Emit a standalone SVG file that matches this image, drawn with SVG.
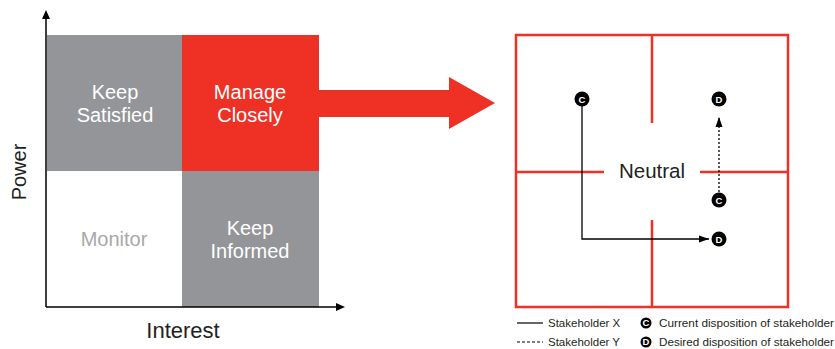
<svg xmlns="http://www.w3.org/2000/svg" width="835" height="349" viewBox="0 0 835 349">
<style>
.t{font-family:"Liberation Sans",Arial,sans-serif;}
.q{font-size:20px;fill:#fff;text-anchor:middle;}
.red{stroke:#EE3124;stroke-width:2.5;fill:none;}
.dot{fill:#000;}
.lt{font-family:"Liberation Sans",Arial,sans-serif;font-size:9.5px;font-weight:bold;fill:#fff;text-anchor:middle;}
.leg{font-family:"Liberation Sans",Arial,sans-serif;font-size:11.5px;fill:#231F20;}
</style>
<defs>
<marker id="ah" viewBox="0 0 10 10" refX="10" refY="5" markerWidth="10" markerHeight="10" markerUnits="userSpaceOnUse" orient="auto">
<path d="M0,1.5 L10,5 L0,8.5 Z" fill="#000"/>
</marker>
</defs>
<rect width="835" height="349" fill="#fff"/>
<g id="matrix">
<g id="keep-satisfied"><rect x="47" y="35" width="135" height="136" fill="#939598"/>
<text class="t q" x="115" y="99">Keep</text><text class="t q" x="115" y="122">Satisfied</text></g>
<g id="manage-closely"><rect x="182" y="35" width="137" height="136" fill="#EE3124"/>
<text class="t q" x="250" y="99">Manage</text><text class="t q" x="250" y="122">Closely</text></g>
<g id="monitor"><text class="t" x="114" y="246" font-size="20" fill="#A7A9AC" text-anchor="middle">Monitor</text></g>
<g id="keep-informed"><rect x="182" y="171" width="137" height="136" fill="#939598"/>
<text class="t q" x="250" y="235">Keep</text><text class="t q" x="250" y="258">Informed</text></g>
</g>
<g id="axes">
<path d="M46,307 V16 M46,307 H338" stroke="#000" stroke-width="1.5" fill="none"/>
<path d="M46,10 L42,19 L50,19 Z M345,307 L336,303 L336,311 Z" fill="#000"/>
<text class="t" x="183" y="338" font-size="22" fill="#231F20" text-anchor="middle">Interest</text>
<text class="t" transform="translate(26,172) rotate(-90)" font-size="20" fill="#231F20" text-anchor="middle">Power</text>
</g>
<g id="big-arrow"><path d="M319,90 H449 V77 L495,103 L449,129 V117 H319 Z" fill="#EE3124"/></g>
<g id="grid">
<rect class="red" x="516" y="35" width="272" height="272"/>
<path class="red" d="M652,35 V123 M652,220 V307 M516,172 H604 M700,172 H788"/>
<text class="t" x="652" y="178" font-size="20.5" fill="#231F20" text-anchor="middle">Neutral</text>
</g>
<g id="connectors">
<path d="M582,99 V239 H709" stroke="#000" stroke-width="1.3" fill="none" marker-end="url(#ah)"/>
<path d="M719,192 V117" stroke="#000" stroke-width="1.3" stroke-dasharray="2,2" fill="none" marker-end="url(#ah)"/>
</g>
<g id="c1"><circle class="dot" cx="582" cy="99" r="7.5"/><text class="lt" x="582" y="102.5">C</text></g>
<g id="d1"><circle class="dot" cx="719" cy="99" r="7.5"/><text class="lt" x="719" y="102.5">D</text></g>
<g id="c2"><circle class="dot" cx="719" cy="200" r="7.5"/><text class="lt" x="719" y="203.5">C</text></g>
<g id="d2"><circle class="dot" cx="719" cy="239" r="7.5"/><text class="lt" x="719" y="242.5">D</text></g>
<g id="legend">
<line x1="517" y1="323" x2="543" y2="323" stroke="#000" stroke-width="1.2"/>
<line x1="517" y1="342" x2="543" y2="342" stroke="#000" stroke-width="1.2" stroke-dasharray="3,2"/>
<text class="leg" x="548" y="327">Stakeholder X</text>
<text class="leg" x="548" y="346">Stakeholder Y</text>
<circle class="dot" cx="646" cy="323" r="5.5"/><text class="lt" x="646" y="325.8" font-size="7">C</text>
<circle class="dot" cx="646" cy="342" r="5.5"/><text class="lt" x="646" y="344.8" font-size="7">D</text>
<text class="leg" x="659" y="327" textLength="175" lengthAdjust="spacingAndGlyphs">Current disposition of stakeholder</text>
<text class="leg" x="659" y="346" textLength="175" lengthAdjust="spacingAndGlyphs">Desired disposition of stakeholder</text>
</g>
</svg>
